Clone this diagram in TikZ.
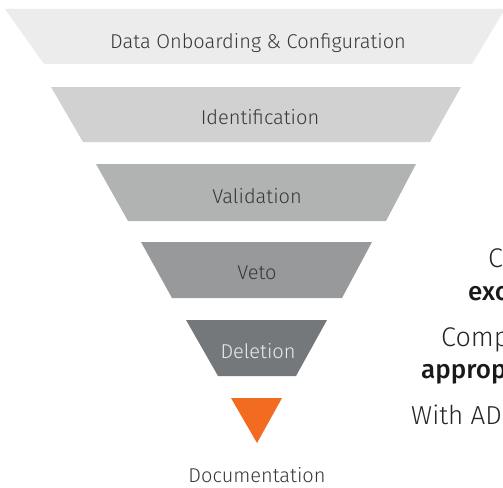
\documentclass[tikz,border=0pt]{standalone}
\usepackage{fontspec}
\setmainfont{Fira Sans Light}
\newfontfamily\boldface{Fira Sans Medium}
\begin{document}
\begin{tikzpicture}[x=1pt,y=-1pt,
  stagelabel/.style={font=\fontsize{20}{24}\selectfont, text=black!78, inner sep=0pt},
  sidetext/.style={anchor=base west, inner sep=0pt, font=\fontsize{27}{32}\selectfont, text=black!85},
  sidebold/.style={anchor=base west, inner sep=0pt, font=\boldface\fontsize{26}{31}\selectfont, text=black!90}]
\definecolor{stageA}{HTML}{ECECEC}
\definecolor{stageB}{HTML}{D0D1D0}
\definecolor{stageC}{HTML}{B1B3B3}
\definecolor{stageD}{HTML}{97999B}
\definecolor{stageE}{HTML}{75787B}
\definecolor{docorange}{HTML}{F26B21}
\useasboundingbox (0,0) rectangle (503,487);
\fill[white] (0,0) rectangle (503,487);

% funnel stages
\fill[stageA] (5,9) -- (505,9) -- (472,64) -- (44,64) -- cycle;
\fill[stageB] (51,87) -- (461,87) -- (430,142) -- (83,142) -- cycle;
\fill[stageC] (96,164) -- (416,164) -- (386,221) -- (128,221) -- cycle;
\fill[stageD] (141,242) -- (372,242) -- (342,298) -- (172,298) -- cycle;
\fill[stageE] (186,320) -- (327,320) -- (296,376) -- (218,376) -- cycle;
\fill[docorange] (231,398) -- (282,398) -- (257,443) -- cycle;

\node[stagelabel] (s1) at (258,43) {Data Onboarding \& Configuration};
\node[stagelabel] (s2) at (260,117) {Identification};
\node[stagelabel] (s3) at (257,196) {Validation};
\node[stagelabel] (s4) at (257,273) {Veto};
\node[stagelabel, text=black!8] (s5) at (258,351) {Deletion};
\node[stagelabel] (s6) at (257,475) {Documentation};

% side notes running off the right edge
\node[sidetext] (n1) at (488,267) {C};
\node[sidebold] (n2) at (468,300) {exc};
\node[sidetext] (n3) at (441,346) {Comp};
\node[sidebold] (n4) at (421,378) {approp};
\node[sidetext, font=\fontsize{26}{31}\selectfont] (n5) at (411,424) {With AD};
\end{tikzpicture}
\end{document}
